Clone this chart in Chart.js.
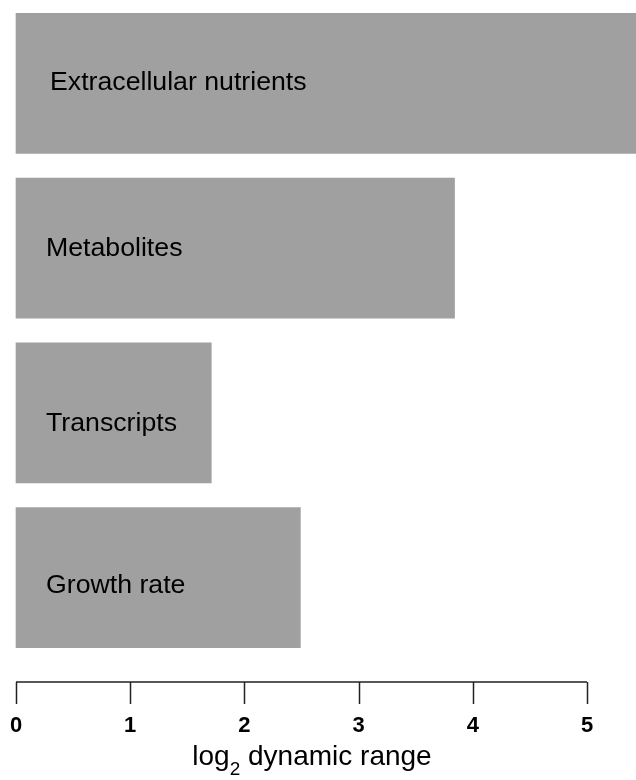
<!DOCTYPE html>
<html>
<head>
<meta charset="utf-8">
<script src="https://cdn.jsdelivr.net/npm/chart.js@4/dist/chart.umd.min.js"></script>
<style>
  html, body { margin: 0; padding: 0; background: #fff; }
  #wrap { width: 636px; height: 780px; }
</style>
</head>
<body>
<div id="wrap"><canvas id="chart1"></canvas></div>
<script>
const categories = ['Extracellular nutrients', 'Metabolites', 'Transcripts', 'Growth rate'];
const dynamicRange = [5.45, 3.84, 1.71, 2.49];
const tickValues = [0, 1, 2, 3, 4, 5];

const FONT = '"Liberation Sans", Arial, sans-serif';
// per-bar label placement inside the bar (x from zero, baseline from bar centre)
const labelDx = [34, 30, 30, 30];
const labelDy = [7, 8, 18, 15];

const ctx = document.getElementById('chart1').getContext('2d');

// names written inside the bars
const barLabels = {
    id: 'barLabels',
    afterDatasetsDraw(chart) {
        const c = chart.ctx;
        const x0 = chart.scales.x.getPixelForValue(0);
        const bars = chart.getDatasetMeta(0).data;
        c.save();
        c.fillStyle = '#000';
        c.font = '26.7px ' + FONT;
        c.textAlign = 'left';
        c.textBaseline = 'alphabetic';
        bars.forEach((bar, i) => {
            c.fillText(categories[i], x0 + labelDx[i], bar.y + labelDy[i]);
        });
        c.restore();
    }
};

// axis line sits below the bars, with tick marks hanging down from it
const bottomAxis = {
    id: 'bottomAxis',
    afterDraw(chart) {
        const c = chart.ctx;
        const sx = chart.scales.x;
        const y0 = sx.top + 22;
        const first = sx.getPixelForValue(tickValues[0]);
        const last = sx.getPixelForValue(tickValues[tickValues.length - 1]);
        c.save();
        c.strokeStyle = '#222';
        c.lineWidth = 1.5;
        c.beginPath();
        c.moveTo(first, y0);
        c.lineTo(last, y0);
        tickValues.forEach(v => {
            const px = Math.round(sx.getPixelForValue(v)) + 0.5;
            c.moveTo(px, y0);
            c.lineTo(px, y0 + 22);
        });
        c.stroke();

        // axis title with subscript 2
        c.fillStyle = '#000';
        c.textBaseline = 'alphabetic';
        c.textAlign = 'left';
        const big = '28px ' + FONT, small = '19px ' + FONT;
        c.font = big;
        const w1 = c.measureText('log').width;
        const w3 = c.measureText(' dynamic range').width;
        c.font = small;
        const w2 = c.measureText('2').width;
        const base = 765;
        let tx = 312 - (w1 + w2 + w3) / 2;
        c.font = big;
        c.fillText('log', tx, base);
        tx += w1;
        c.font = small;
        c.fillText('2', tx, base + 10);
        tx += w2;
        c.font = big;
        c.fillText(' dynamic range', tx, base);
        c.restore();
    }
};

new Chart(ctx, {
    type: 'bar',
    data: {
        labels: categories,
        datasets: [{
            data: dynamicRange,
            backgroundColor: '#a0a0a0',
            borderWidth: 0,
            barThickness: 140,
            clip: false
        }]
    },
    options: {
        indexAxis: 'y',
        responsive: true,
        maintainAspectRatio: false,
        animation: false,
        layout: {
            padding: { top: 1, left: 16, right: 49, bottom: 0 }
        },
        plugins: {
            legend: { display: false },
            tooltip: { enabled: false }
        },
        scales: {
            y: { display: false },
            x: {
                min: 0,
                max: 5,
                grid: { display: false, drawTicks: true, tickLength: 51 },
                border: { display: false },
                ticks: {
                    color: '#000',
                    padding: 2,
                    maxRotation: 0,
                    font: { family: FONT, size: 22, weight: 'bold' }
                },
                afterBuildTicks: scale => {
                    scale.ticks = tickValues.map(v => ({ value: v }));
                },
                afterFit: scale => {
                    scale.height = 120;
                }
            }
        }
    },
    plugins: [barLabels, bottomAxis]
});
</script>
</body>
</html>
